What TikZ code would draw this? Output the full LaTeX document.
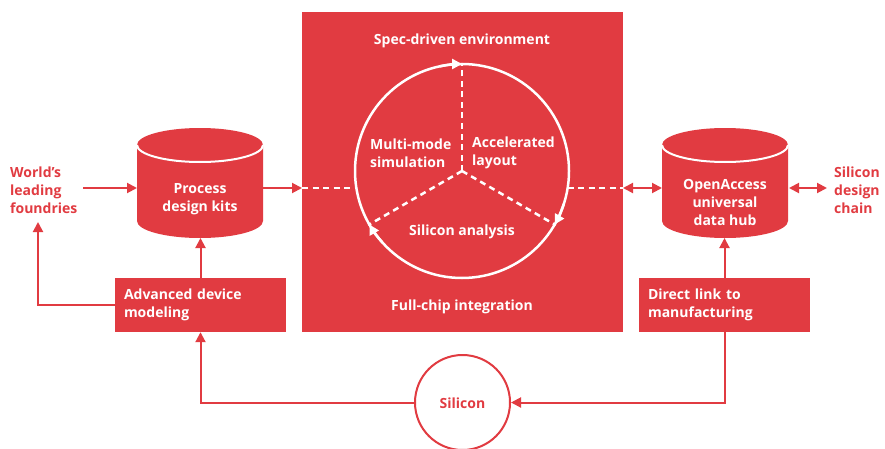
\documentclass[tikz,border=0pt]{standalone}
\usepackage{fontspec}
\setmainfont{Open Sans}
\usetikzlibrary{arrows.meta,calc}
\definecolor{cred}{RGB}{225,59,65}
\begin{document}
\begin{tikzpicture}[x=1pt,y=1pt,
  txt/.style={font=\fontsize{14}{18}\selectfont\bfseries, inner sep=0pt},
  wtxt/.style={txt, text=white},
  rtxt/.style={txt, text=cred},
  tipr/.style={-{Triangle[length=10pt,width=10pt]}},
  conn/.style={draw=cred, line width=2pt, tipr},
  dconn/.style={draw=cred, line width=2pt, {Triangle[length=10pt,width=10pt]}-{Triangle[length=10pt,width=10pt]}},
  wdash/.style={draw=white, line width=2.5pt, dash pattern=on 6pt off 4.5pt},
  box/.style={fill=cred, minimum width=171pt, minimum height=54pt, inner xsep=9pt, inner ysep=0pt,
              text width=153pt, align=left, font=\fontsize{14}{18}\selectfont\bfseries, text=white},
  cyl/.style={fill=cred},
  cylline/.style={draw=white, line width=2pt},
]
\useasboundingbox (0,0) rectangle (885,448);

% central square
\node[fill=cred, minimum width=321pt, minimum height=320pt, inner sep=0pt, anchor=south west] (sq) at (302,116) {};
\node[wtxt] (spec) at (462,407.5) {Spec-driven environment};
\node[wtxt] (full) at (462,141.5) {Full-chip integration};

% cycle
\node[circle, draw=white, line width=2.5pt, minimum size=214pt, inner sep=0pt] (cyc) at (462,277) {};
\draw[wdash] (cyc.center) -- (cyc.90);
\draw[wdash] (cyc.center) -- (cyc.-30);
\draw[wdash] (cyc.center) -- (cyc.210);
\draw[white, line width=2.5pt, tipr] (cyc.center) ++(102:107) arc[start angle=102, end angle=90, radius=107];
\draw[white, line width=2.5pt, tipr] (cyc.center) ++(-18:107) arc[start angle=-18, end angle=-30, radius=107];
\draw[white, line width=2.5pt, tipr] (cyc.center) ++(222:107) arc[start angle=222, end angle=210, radius=107];
\node[wtxt, align=left, anchor=west] (mm) at (370,295) {Multi-mode\\simulation};
\node[wtxt, align=left, anchor=west] (al) at (472,295) {Accelerated\\layout};
\node[wtxt] (sa) at (462,216.5) {Silicon analysis};

\coordinate (sqL) at (302,260);
\coordinate (cycL) at (356.4,260);
\coordinate (cycR) at (567.6,260);
\coordinate (sqR) at (623,260);
\draw[wdash] (sqL) -- (cycL);
\draw[wdash] (cycR) -- (sqR);

% left cylinder
\fill[cyl] (137,303) -- (137,227) arc[start angle=180,end angle=360,x radius=63,y radius=17]
  -- (263,303) arc[start angle=0,end angle=180,x radius=63,y radius=17] -- cycle;
\draw[cylline] (137,303) arc[start angle=180,end angle=360,x radius=63,y radius=17];
\node[wtxt, align=center] (pdk) at (200,249) {Process\\design kits};
\coordinate (pdkL) at (137,260);
\coordinate (pdkR) at (263,260);
\coordinate (pdkB) at (200.5,210);

% right cylinder
\fill[cyl] (662,303) -- (662,227) arc[start angle=180,end angle=360,x radius=63,y radius=17]
  -- (788,303) arc[start angle=0,end angle=180,x radius=63,y radius=17] -- cycle;
\draw[cylline] (662,303) arc[start angle=180,end angle=360,x radius=63,y radius=17];
\node[wtxt, align=center] (oa) at (725,246) {OpenAccess\\universal\\data hub};
\coordinate (oaL) at (662,260);
\coordinate (oaR) at (789,260);
\coordinate (oaB) at (724.5,210);

% outer texts
\node[rtxt, align=left, anchor=west] (wlf) at (10,258) {World’s\\leading\\foundries};
\node[rtxt, align=left, anchor=west] (sdc) at (834,258) {Silicon\\design\\chain};
\coordinate (wlfA) at (83,260);
\coordinate (wlfB) at (38,226);
\coordinate (sdcA) at (827,260);

% boxes
\node[box] (adm) at (200.5,143) {Advanced device\\modeling};
\node[box] (dlm) at (724.5,143) {Direct link to\\manufacturing};

% silicon
\node[circle, draw=cred, line width=2pt, minimum size=95pt, inner sep=0pt] (si) at (462.5,45.5) {};
\node[rtxt] (sit) at (462.5,44.5) {Silicon};

% connectors
\draw[conn] (wlfA) -- (pdkL);
\draw[conn] (pdkR) -- (sqL);
\draw[dconn] (sqR) -- (oaL);
\draw[dconn] (oaR) -- (sdcA);
\draw[conn] (adm.north) -- (pdkB);
\draw[conn] (dlm.north) -- (oaB);
\draw[conn] (adm.west) -| (wlfB);
\draw[conn] (si.west) -| (adm.south);
\draw[conn] (dlm.south) |- (si.east);
\end{tikzpicture}
\end{document}
